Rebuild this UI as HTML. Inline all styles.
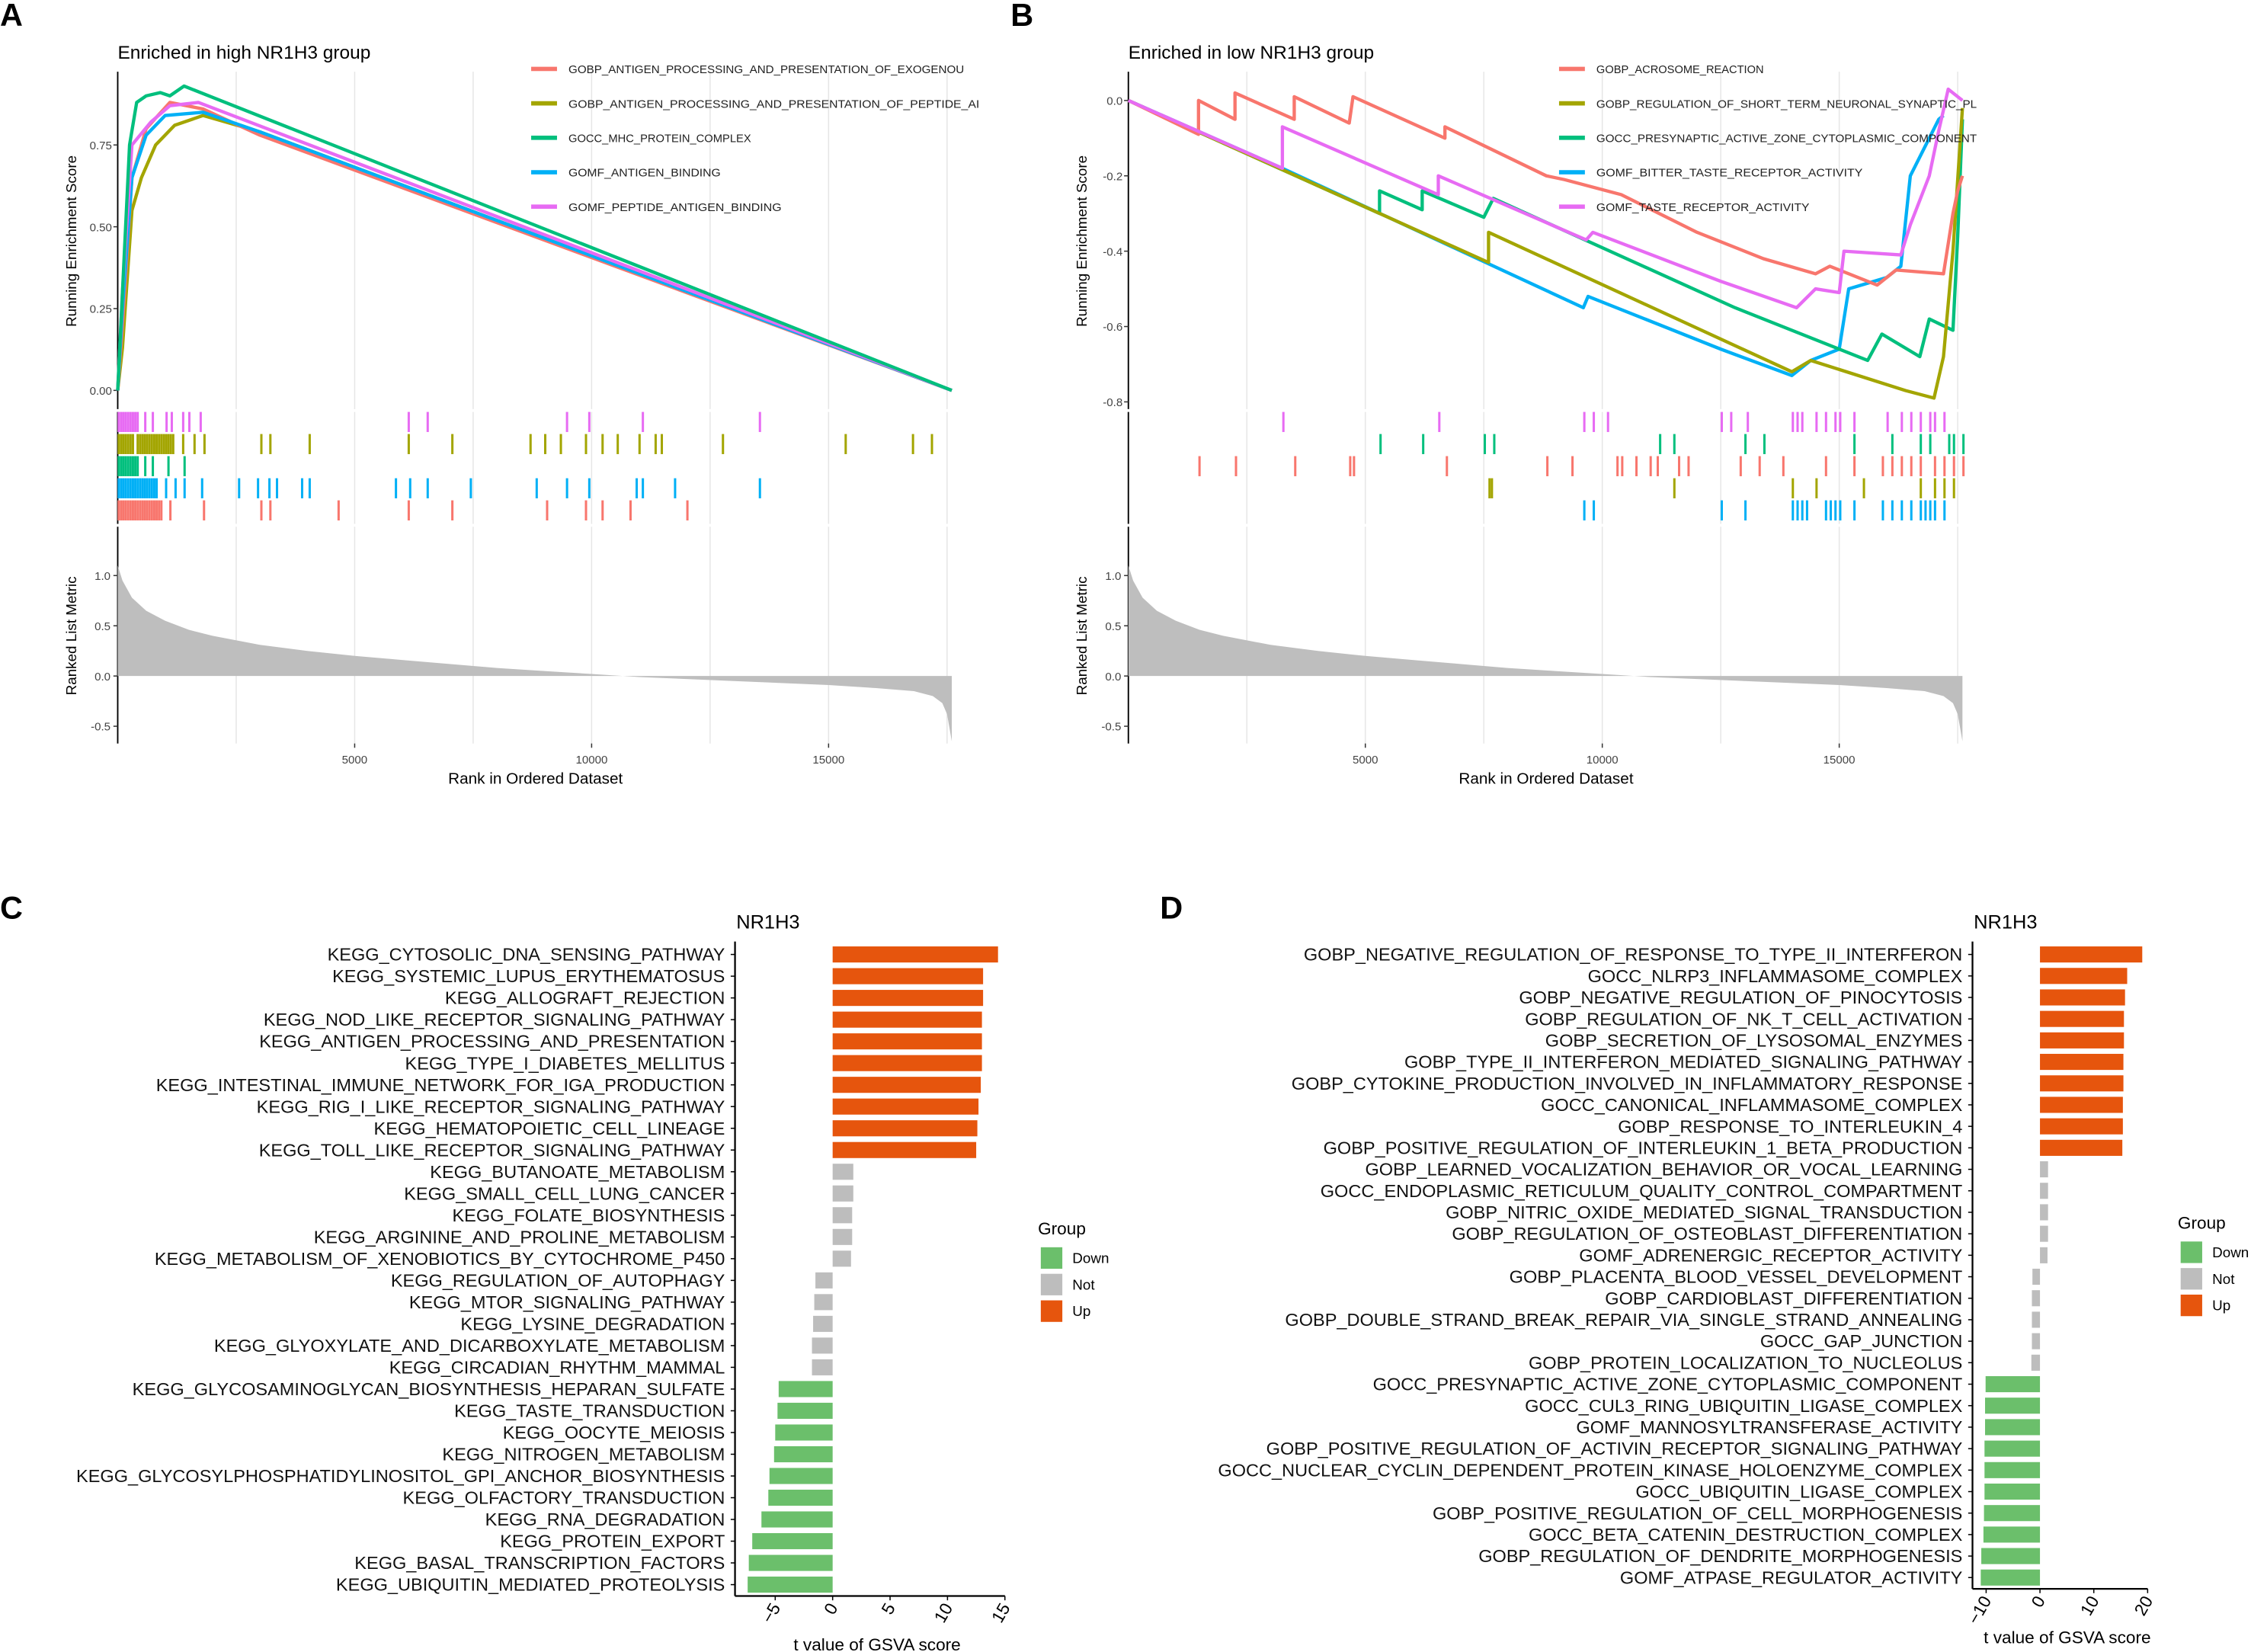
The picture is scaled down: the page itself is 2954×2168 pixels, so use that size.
<!DOCTYPE html>
<html><head><meta charset="utf-8"><style>
html,body{margin:0;padding:0;background:#fff}
svg{display:block}
text{font-family:"Liberation Sans",sans-serif}
</style></head><body>
<svg id="fig" xmlns="http://www.w3.org/2000/svg" width="2954" height="2168" viewBox="0 0 1568 1151" preserveAspectRatio="none"></svg>
<script>
// ---------- Panel A data ----------
const aNames=["GOBP_ANTIGEN_PROCESSING_AND_PRESENTATION_OF_EXOGENOU","GOBP_ANTIGEN_PROCESSING_AND_PRESENTATION_OF_PEPTIDE_AI","GOCC_MHC_PROTEIN_COMPLEX","GOMF_ANTIGEN_BINDING","GOMF_PEPTIDE_ANTIGEN_BINDING"];
const aRed=[[0,0],[100,0.2],[300,0.65],[600,0.8],[1100,0.88],[1800,0.86],[3000,0.78],[17600,0]];
const aOlive=[[0,0],[100,0.13],[300,0.55],[500,0.65],[800,0.75],[1200,0.81],[1800,0.84],[3000,0.79],[17600,0]];
const aGreen=[[0,0],[100,0.3],[250,0.75],[400,0.88],[600,0.9],[900,0.91],[1100,0.9],[1400,0.93],[17600,0]];
const aBlue=[[0,0],[100,0.25],[300,0.65],[600,0.78],[1000,0.84],[1800,0.85],[3000,0.79],[17600,0]];
const aPink=[[0,0],[100,0.3],[300,0.75],[700,0.82],[1100,0.87],[1700,0.88],[17600,0]];
const aRugPink=[0,50,100,150,200,250,300,350,400,560,720,1010,1120,1360,1490,1730,6120,6520,9460,9930,11060,13530];
const aRugOlive=[0,50,100,150,200,250,300,400,450,500,550,600,650,700,750,800,850,900,950,1000,1050,1100,1150,1360,1600,1810,3010,3200,4030,6120,7040,8690,9000,9330,9860,10210,10530,10990,11330,11460,12750,15340,16760,17160];
const aRugGreen=[0,50,100,150,200,250,300,350,400,560,720,1050,1390];
const aRugBlue=[0,50,100,150,200,250,300,350,400,450,500,550,600,650,700,750,800,1000,1200,1390,1760,2540,2940,3180,3340,3870,4030,5850,6150,6520,7430,8820,9460,9930,10930,11060,11740,13530];
const aRugRed=[0,50,100,150,200,250,300,350,400,450,500,550,600,650,700,750,800,850,900,1090,1800,3010,3200,4640,6120,7040,9040,9860,10210,10800,12000];
// ---------- Panel B data ----------
const bNames=["GOBP_ACROSOME_REACTION","GOBP_REGULATION_OF_SHORT_TERM_NEURONAL_SYNAPTIC_PL","GOCC_PRESYNAPTIC_ACTIVE_ZONE_CYTOPLASMIC_COMPONENT","GOMF_BITTER_TASTE_RECEPTOR_ACTIVITY","GOMF_TASTE_RECEPTOR_ACTIVITY"];
const bRed=[[0,0],[1480,-0.09],[1480,0],[2250,-0.05],[2250,0.02],[3500,-0.05],[3500,0.01],[4660,-0.06],[4740,0.01],[6680,-0.1],[6680,-0.07],[8820,-0.2],[9200,-0.21],[10400,-0.25],[12000,-0.35],[13400,-0.42],[14500,-0.46],[14800,-0.44],[15800,-0.49],[16200,-0.45],[17200,-0.46],[17400,-0.3],[17500,-0.24],[17600,-0.2]];
const bOlive=[[0,0],[7600,-0.43],[7600,-0.35],[14000,-0.72],[14400,-0.69],[16400,-0.77],[17000,-0.79],[17200,-0.68],[17400,-0.4],[17600,-0.02]];
const bGreen=[[0,0],[5300,-0.3],[5300,-0.24],[6200,-0.29],[6200,-0.24],[7500,-0.31],[7700,-0.26],[12800,-0.55],[15600,-0.69],[15900,-0.62],[16700,-0.68],[16900,-0.58],[17400,-0.61],[17500,-0.36],[17600,-0.05]];
const bBlue=[[0,0],[3250,-0.18],[9600,-0.55],[9700,-0.52],[12500,-0.66],[14000,-0.73],[14400,-0.69],[15000,-0.66],[15200,-0.5],[16000,-0.47],[16300,-0.44],[16500,-0.2],[17100,-0.05],[17200,-0.04]];
const bPink=[[0,0],[3250,-0.18],[3250,-0.07],[6540,-0.25],[6540,-0.2],[9660,-0.37],[9800,-0.35],[12500,-0.48],[14100,-0.55],[14500,-0.5],[15000,-0.51],[15100,-0.4],[16300,-0.41],[16500,-0.33],[16900,-0.2],[17100,-0.08],[17300,0.03],[17600,0]];
const bRugPink=[3250,6540,9600,9800,10100,12500,12700,13050,14000,14100,14200,14500,14700,14900,15000,15300,16000,16300,16500,16700,16900,17000,17200];
const bRugGreen=[5300,6200,7500,7700,11200,11500,13000,13400,15300,16100,16700,16900,17300,17400,17600];
const bRugRed=[1480,2250,3500,4660,4740,6700,8820,9350,10300,10400,10700,11000,11150,11600,11800,12900,13300,13800,14700,15300,15900,16100,16300,16500,16700,17000,17200,17400,17600];
const bRugOlive=[7600,7650,11500,14000,14500,15500,16700,17000,17200,17400];
const bRugBlue=[9600,9800,12500,13000,14000,14100,14200,14300,14700,14800,14900,15000,15300,15900,16100,16300,16500,16700,16800,16900,17000,17200];
// ranked list metric samples (rank, value)
const metricRanks=[0,100,300,600,1000,1500,2000,3000,4000,5000,6000,7000,8000,9000,10000,11000,12000,13000,14000,15000,16000,16800,17200,17400,17500,17600];
const metricVals=[1.1,0.95,0.78,0.65,0.55,0.46,0.4,0.31,0.25,0.2,0.16,0.12,0.08,0.05,0.02,-0.01,-0.03,-0.05,-0.07,-0.09,-0.12,-0.15,-0.2,-0.27,-0.38,-0.65];
// ---------- Panel C data ----------
const cLabels=["KEGG_CYTOSOLIC_DNA_SENSING_PATHWAY","KEGG_SYSTEMIC_LUPUS_ERYTHEMATOSUS","KEGG_ALLOGRAFT_REJECTION","KEGG_NOD_LIKE_RECEPTOR_SIGNALING_PATHWAY","KEGG_ANTIGEN_PROCESSING_AND_PRESENTATION","KEGG_TYPE_I_DIABETES_MELLITUS","KEGG_INTESTINAL_IMMUNE_NETWORK_FOR_IGA_PRODUCTION","KEGG_RIG_I_LIKE_RECEPTOR_SIGNALING_PATHWAY","KEGG_HEMATOPOIETIC_CELL_LINEAGE","KEGG_TOLL_LIKE_RECEPTOR_SIGNALING_PATHWAY","KEGG_BUTANOATE_METABOLISM","KEGG_SMALL_CELL_LUNG_CANCER","KEGG_FOLATE_BIOSYNTHESIS","KEGG_ARGININE_AND_PROLINE_METABOLISM","KEGG_METABOLISM_OF_XENOBIOTICS_BY_CYTOCHROME_P450","KEGG_REGULATION_OF_AUTOPHAGY","KEGG_MTOR_SIGNALING_PATHWAY","KEGG_LYSINE_DEGRADATION","KEGG_GLYOXYLATE_AND_DICARBOXYLATE_METABOLISM","KEGG_CIRCADIAN_RHYTHM_MAMMAL","KEGG_GLYCOSAMINOGLYCAN_BIOSYNTHESIS_HEPARAN_SULFATE","KEGG_TASTE_TRANSDUCTION","KEGG_OOCYTE_MEIOSIS","KEGG_NITROGEN_METABOLISM","KEGG_GLYCOSYLPHOSPHATIDYLINOSITOL_GPI_ANCHOR_BIOSYNTHESIS","KEGG_OLFACTORY_TRANSDUCTION","KEGG_RNA_DEGRADATION","KEGG_PROTEIN_EXPORT","KEGG_BASAL_TRANSCRIPTION_FACTORS","KEGG_UBIQUITIN_MEDIATED_PROTEOLYSIS"];
const cValues=[14.4,13.1,13.1,13.0,13.0,13.0,12.9,12.7,12.6,12.5,1.8,1.8,1.7,1.7,1.6,-1.5,-1.6,-1.7,-1.8,-1.8,-4.7,-4.8,-5.0,-5.1,-5.5,-5.6,-6.2,-7.0,-7.3,-7.4];
const cGroups=["Up","Up","Up","Up","Up","Up","Up","Up","Up","Up","Not","Not","Not","Not","Not","Not","Not","Not","Not","Not","Down","Down","Down","Down","Down","Down","Down","Down","Down","Down"];
const cTicks=[-5,0,5,10,15];
// ---------- Panel D data ----------
const dLabels=["GOBP_NEGATIVE_REGULATION_OF_RESPONSE_TO_TYPE_II_INTERFERON","GOCC_NLRP3_INFLAMMASOME_COMPLEX","GOBP_NEGATIVE_REGULATION_OF_PINOCYTOSIS","GOBP_REGULATION_OF_NK_T_CELL_ACTIVATION","GOBP_SECRETION_OF_LYSOSOMAL_ENZYMES","GOBP_TYPE_II_INTERFERON_MEDIATED_SIGNALING_PATHWAY","GOBP_CYTOKINE_PRODUCTION_INVOLVED_IN_INFLAMMATORY_RESPONSE","GOCC_CANONICAL_INFLAMMASOME_COMPLEX","GOBP_RESPONSE_TO_INTERLEUKIN_4","GOBP_POSITIVE_REGULATION_OF_INTERLEUKIN_1_BETA_PRODUCTION","GOBP_LEARNED_VOCALIZATION_BEHAVIOR_OR_VOCAL_LEARNING","GOCC_ENDOPLASMIC_RETICULUM_QUALITY_CONTROL_COMPARTMENT","GOBP_NITRIC_OXIDE_MEDIATED_SIGNAL_TRANSDUCTION","GOBP_REGULATION_OF_OSTEOBLAST_DIFFERENTIATION","GOMF_ADRENERGIC_RECEPTOR_ACTIVITY","GOBP_PLACENTA_BLOOD_VESSEL_DEVELOPMENT","GOBP_CARDIOBLAST_DIFFERENTIATION","GOBP_DOUBLE_STRAND_BREAK_REPAIR_VIA_SINGLE_STRAND_ANNEALING","GOCC_GAP_JUNCTION","GOBP_PROTEIN_LOCALIZATION_TO_NUCLEOLUS","GOCC_PRESYNAPTIC_ACTIVE_ZONE_CYTOPLASMIC_COMPONENT","GOCC_CUL3_RING_UBIQUITIN_LIGASE_COMPLEX","GOMF_MANNOSYLTRANSFERASE_ACTIVITY","GOBP_POSITIVE_REGULATION_OF_ACTIVIN_RECEPTOR_SIGNALING_PATHWAY","GOCC_NUCLEAR_CYCLIN_DEPENDENT_PROTEIN_KINASE_HOLOENZYME_COMPLEX","GOCC_UBIQUITIN_LIGASE_COMPLEX","GOBP_POSITIVE_REGULATION_OF_CELL_MORPHOGENESIS","GOCC_BETA_CATENIN_DESTRUCTION_COMPLEX","GOBP_REGULATION_OF_DENDRITE_MORPHOGENESIS","GOMF_ATPASE_REGULATOR_ACTIVITY"];
const dValues=[19.0,16.2,15.8,15.6,15.6,15.5,15.5,15.4,15.4,15.3,1.5,1.5,1.5,1.5,1.4,-1.4,-1.5,-1.5,-1.5,-1.6,-10.1,-10.2,-10.2,-10.3,-10.3,-10.3,-10.4,-10.5,-10.9,-11.0];
const dGroups=["Up","Up","Up","Up","Up","Up","Up","Up","Up","Up","Not","Not","Not","Not","Not","Not","Not","Not","Not","Not","Down","Down","Down","Down","Down","Down","Down","Down","Down","Down"];
const dTicks=[-10,0,10,20];

const NS="http://www.w3.org/2000/svg";
const svg=document.getElementById('fig');
function el(tag,attrs,parent,txt){const e=document.createElementNS(NS,tag);for(const k in attrs)e.setAttribute(k,attrs[k]);if(txt!==undefined)e.textContent=txt;(parent||svg).appendChild(e);return e;}
const COL={red:"#F8766D",olive:"#A3A500",green:"#00BF7D",blue:"#00B0F6",pink:"#E76BF3"};
const GCOL={Up:"#E6550D",Not:"#BDBDBD",Down:"#6BBF6B"};

function gsea(ox,letter,title,names,series,esTicks,esMin,esMax,esTop,esBot,rugs,legendX){
  const g=el('g',{});
  
  
  const x0=ox, x1=ox+581, maxRank=17600;
  const xs=r=>x0+r/maxRank*(x1-x0);
  const ys=v=>esBot-(v-esMin)/(esMax-esMin)*(esBot-esTop);
  const pl=el('text',{x:ox-82,y:18,'font-size':22,'font-weight':'bold'},g,letter);
  
  
  const t=el('text',{x:ox,y:41,'font-size':13},g,title);
  
  
  for(let r=2500;r<=17500;r+=2500){
    [[50,285],[287,365],[367,518]].forEach(s=>{el('line',{x1:xs(r),x2:xs(r),y1:s[0],y2:s[1],stroke:'#e6e6e6','stroke-width':0.8},g);});
  }
  el('line',{x1:x0,x2:x0,y1:50,y2:285,stroke:'#000','stroke-width':1},g);
  el('line',{x1:x0,x2:x0,y1:287,y2:365,stroke:'#000','stroke-width':1},g);
  el('line',{x1:x0,x2:x0,y1:367,y2:518,stroke:'#000','stroke-width':1},g);
  esTicks.forEach(v=>{
    el('line',{x1:x0-3,x2:x0,y1:ys(v),y2:ys(v),stroke:'#333','stroke-width':0.8},g);
    const tt=el('text',{x:x0-4,y:ys(v)+3,'font-size':8,'text-anchor':'end',fill:'#444'},g,v.toFixed(esMin<0?1:2));
    
    
  });
  const yl=el('text',{transform:`translate(${ox-29},168) rotate(-90)`,'font-size':10,'text-anchor':'middle'},g,'Running Enrichment Score');
  
  
  series.forEach((s,i)=>{
    const p=el('polyline',{points:s.data.map(d=>xs(d[0])+','+ys(d[1])).join(' '),fill:'none',stroke:s.col,'stroke-width':2.3,'stroke-linejoin':'round'},g);
    
    
  });
  names.forEach((n,i)=>{
    const y=48+i*24;
    el('line',{x1:legendX,x2:legendX+18,y1:y,y2:y,stroke:series.find(s=>s.idx===i).col,'stroke-width':3},g);
    const lt=el('text',{x:legendX+26,y:y+3,'font-size':7.6,fill:'#222',textLength:n.length*5.3,lengthAdjust:'spacingAndGlyphs'},g,n);
    
    
  });
  rugs.forEach((rg,i)=>{
    const yt=287+i*15.4, yb=yt+14;
    rg.ranks.forEach(r=>{
      const l=el('line',{x1:xs(r)+0.7,x2:xs(r)+0.7,y1:yt,y2:yb,stroke:rg.col,'stroke-width':1.6},g);
      
      
    });
  });
  const my=v=>471-v*70;
  let d=`M${xs(0)},${my(0)} `+metricRanks.map((r,i)=>`L${xs(r)},${my(metricVals[i])}`).join(' ')+` L${xs(maxRank)},${my(0)} Z`;
  const area=el('path',{d:d,fill:'#bebebe'},g);
  
  
  [1.0,0.5,0.0,-0.5].forEach(v=>{
    el('line',{x1:x0-3,x2:x0,y1:my(v),y2:my(v),stroke:'#333','stroke-width':0.8},g);
    el('text',{x:x0-5,y:my(v)+3,'font-size':8,'text-anchor':'end',fill:'#444'},g,v.toFixed(1));
  });
  const ml=el('text',{transform:`translate(${ox-29},443) rotate(-90)`,'font-size':10,'text-anchor':'middle'},g,'Ranked List Metric');
  
  
  [5000,10000,15000].forEach(r=>{
    el('line',{x1:xs(r),x2:xs(r),y1:518,y2:521,stroke:'#333','stroke-width':0.8},g);
    el('text',{x:xs(r),y:532,'font-size':8,'text-anchor':'middle',fill:'#444'},g,String(r));
  });
  const xl=el('text',{x:ox+291,y:546,'font-size':11,'text-anchor':'middle'},g,'Rank in Ordered Dataset');
  
  
}

gsea(82,'A','Enriched in high NR1H3 group',aNames,
 [{key:'olive',col:COL.olive,data:aOlive,idx:1},{key:'red',col:COL.red,data:aRed,idx:0},{key:'blue',col:COL.blue,data:aBlue,idx:3},{key:'pink',col:COL.pink,data:aPink,idx:4},{key:'green',col:COL.green,data:aGreen,idx:2}],
 [0,0.25,0.5,0.75],0,0.75,101,272,
 [{col:COL.pink,ranks:aRugPink},{col:COL.olive,ranks:aRugOlive},{col:COL.green,ranks:aRugGreen},{col:COL.blue,ranks:aRugBlue},{col:COL.red,ranks:aRugRed}],370);
gsea(786,'B','Enriched in low NR1H3 group',bNames,
 [{key:'blue',col:COL.blue,data:bBlue,idx:3},{key:'green',col:COL.green,data:bGreen,idx:2},{key:'olive',col:COL.olive,data:bOlive,idx:1},{key:'red',col:COL.red,data:bRed,idx:0},{key:'pink',col:COL.pink,data:bPink,idx:4}],
 [0,-0.2,-0.4,-0.6,-0.8],-0.8,0,70,280,
 [{col:COL.pink,ranks:bRugPink},{col:COL.green,ranks:bRugGreen},{col:COL.red,ranks:bRugRed},{col:COL.olive,ranks:bRugOlive},{col:COL.blue,ranks:bRugBlue}],1086);

function bars(letter,labels,values,groups,ticks,zeroX,ppu,axisX,labelX,yFirst,step,axisY,titleX,legX,legY){
  const g=el('g',{});
  
  
  const xs=v=>zeroX+v*ppu;
  const pl=el('text',{x:letter==='C'?0:808,y:640,'font-size':22,'font-weight':'bold'},g,letter);
  
  
  const tt=el('text',{x:titleX,y:647,'font-size':13.5,'text-anchor':'middle'},g,'NR1H3');
  
  
  labels.forEach((lab,i)=>{
    const y=yFirst+i*step;
    const v=values[i];
    const r=el('rect',{x:Math.min(xs(0),xs(v)),y:y-5.6,width:Math.abs(xs(v)-xs(0)),height:11.2,fill:GCOL[groups[i]]},g);
    
    
    const t=el('text',{x:labelX,y:y+4.3,'font-size':12.5,'text-anchor':'end',fill:'#111'},g,lab);
    
    
    el('line',{x1:axisX-3,x2:axisX,y1:y,y2:y,stroke:'#000','stroke-width':0.8},g);
  });
  const xEnd=xs(ticks[ticks.length-1]);
  el('line',{x1:axisX,x2:axisX,y1:yFirst-9,y2:axisY,stroke:'#000','stroke-width':1.2},g);
  el('line',{x1:axisX,x2:xEnd,y1:axisY,y2:axisY,stroke:'#000','stroke-width':1.2},g);
  ticks.forEach(v=>{
    el('line',{x1:xs(v),x2:xs(v),y1:axisY,y2:axisY+3,stroke:'#000','stroke-width':0.8},g);
    const t=el('text',{transform:`translate(${xs(v)+4},${axisY+8}) rotate(-60)`,'font-size':12,'text-anchor':'end'},g,String(v).replace('-','\u2212'));
    
    
  });
  const xl=el('text',{x:(axisX+xEnd)/2+5,y:axisY+38,'font-size':12,'text-anchor':'middle'},g,'t value of GSVA score');
  
  
  const lg=el('text',{x:legX,y:legY,'font-size':12},g,'Group');
  
  
  ['Down','Not','Up'].forEach((k,i)=>{
    const y=legY+9+i*18.5;
    el('rect',{x:legX+2,y:y,width:15,height:15,fill:GCOL[k]},g);
    const t=el('text',{x:legX+24,y:y+11,'font-size':10},g,k);
    
    
  });
}
bars('C',cLabels,cValues,cGroups,cTicks,580,8,512,505,665,15.14,1112,535,723,860);
bars('D',dLabels,dValues,dGroups,dTicks,1421,3.75,1374,1367,665,14.97,1107,1397,1517,856);
</script>
</body></html>
